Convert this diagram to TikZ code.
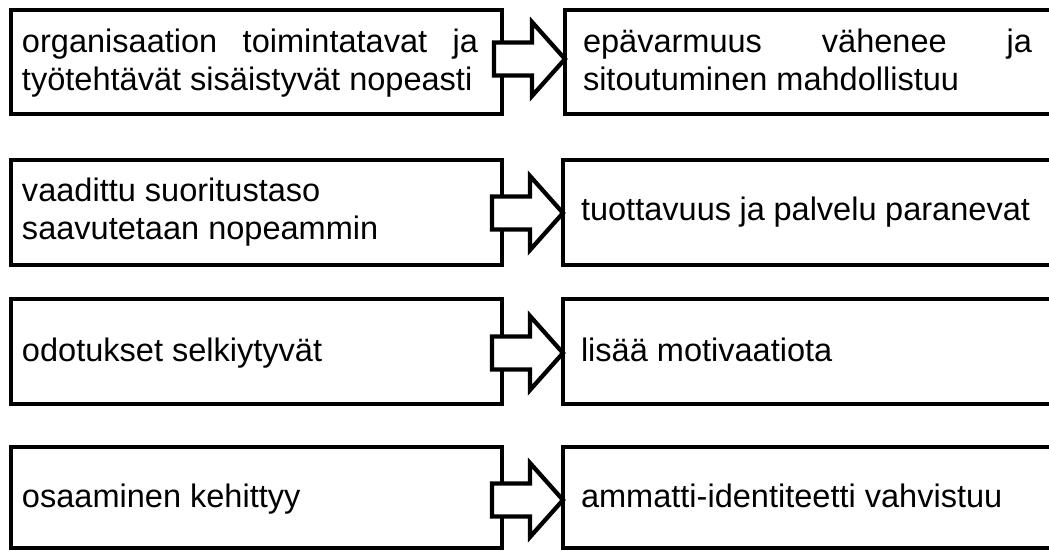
\documentclass[tikz,border=0pt]{standalone}
\usepackage{fontspec}
\setmainfont{Liberation Sans}
\usetikzlibrary{calc}
\newdimen\pxu \pxu=0.75pt
\newcommand{\ltext}[2][0]{\raisebox{-#1\pxu}[\height][\depth]{\hspace*{11\pxu}\parbox{456\pxu}{\strut#2\strut}\hspace*{24\pxu}}}
\newcommand{\rtext}[2][0]{\raisebox{-#1\pxu}[\height][\depth]{\hspace*{18\pxu}\parbox{449\pxu}{\strut#2\strut}\hspace*{38\pxu}}}
\newcommand{\blockarrow}[1]{%
  \draw[barrow] ($(#1)+(-71,-16.5)$) -- ($(#1)+(-33,-16.5)$) -- ($(#1)+(-33,-37)$)
    -- (#1) -- ($(#1)+(-33,37)$) -- ($(#1)+(-33,16.5)$) -- ($(#1)+(-71,16.5)$) -- cycle;}
\begin{document}
\begin{tikzpicture}[x=0.75pt,y=-0.75pt,
  box/.style={draw=black, line width=3.2pt, rectangle, inner sep=0pt, outer sep=0pt,
    anchor=north west, align=left,
    font=\fontsize{24.4pt}{28.5pt}\selectfont},
  lbox/.style={box, minimum width=491\pxu},
  rbox/.style={box, minimum width=505\pxu},
  barrow/.style={draw=black, fill=white, line width=3.2pt, line join=miter}]
\useasboundingbox (0,0) rectangle (1049,550);
\clip (0,0) rectangle (1049,550);
\fill[white] (0,0) rectangle (1049,550);
% row 1
\node[lbox, minimum height=104\pxu] (L1) at (11,10)
  {\ltext[1.5]{organisaation toimintatavat ja\linebreak työtehtävät sisäistyvät nopeasti}};
\node[rbox, minimum height=104\pxu] (R1) at (565,10)
  {\rtext[1.5]{epävarmuus vähenee ja\linebreak sitoutuminen mahdollistuu}};
% row 2
\node[lbox, minimum height=105\pxu] (L2) at (11,160)
  {\ltext{vaadittu suoritustaso\\saavutetaan nopeammin}};
\node[rbox, minimum height=105\pxu] (R2) at (563,160)
  {\rtext{tuottavuus ja palvelu paranevat}};
% row 3
\node[lbox, minimum height=105\pxu] (L3) at (11,299)
  {\ltext[2]{odotukset selkiytyvät}};
\node[rbox, minimum height=105\pxu] (R3) at (563,299)
  {\rtext[2]{lisää motivaatiota}};
% row 4
\node[lbox, minimum height=101\pxu] (L4) at (11,447)
  {\ltext[2]{osaaminen kehittyy}};
\node[rbox, minimum height=101\pxu] (R4) at (563,447)
  {\rtext[2]{ammatti-identiteetti vahvistuu}};
% arrows
\coordinate (t1) at ($(R1.west)+(0,-3)$);
\coordinate (t2) at ($(R2.west)+(0,0.5)$);
\coordinate (t3) at ($(R3.west)+(0,1.5)$);
\coordinate (t4) at ($(R4.west)+(0,2.5)$);
\blockarrow{t1}
\blockarrow{t2}
\blockarrow{t3}
\blockarrow{t4}
\end{tikzpicture}
\end{document}
